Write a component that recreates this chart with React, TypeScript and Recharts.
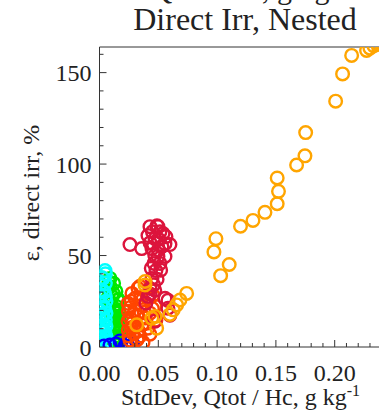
import React from "react";
import { ScatterChart, Scatter, XAxis, YAxis, Label } from "recharts";

const FONT = "'Liberation Serif', 'Times New Roman', Times, serif";

// x = StdDev Qtot/Hc (g/kg), y = epsilon direct irr (%)
const orangePts = [
  [0.2144, 159.4], [0.2067, 149.3], [0.2008, 134.4], [0.1753, 117.2], [0.1747, 104.5],
  [0.1676, 99.5], [0.1511, 92.4], [0.1522, 85.1], [0.1511, 78.3], [0.1407, 73.6],
  [0.1305, 69.2], [0.1199, 66.0], [0.099, 59.2], [0.0973, 52.0], [0.1103, 45.1],
  [0.103, 39.0], [0.2271, 162.1], [0.2299, 163.4], [0.2333, 164.6], [0.2367, 165.5],
  [0.24, 166.0], [0.0741, 29.3], [0.0684, 25.7], [0.0656, 23.0], [0.0627, 20.3],
  [0.0599, 17.8], [0.0486, 10.3], [0.0387, 33.9], [0.0472, 16.7], [0.0316, 12.1],
  [0.0444, 15.8], [0.0387, 35.8],
];
const crimsonPts = [
  [0.0259, 56.0], [0.0359, 53.8], [0.0412, 60.9], [0.0429, 65.8], [0.0489, 66.3],
  [0.0514, 63.0], [0.0497, 65.8], [0.0565, 60.3], [0.0599, 56.0], [0.0557, 56.5],
  [0.0531, 55.0], [0.0472, 59.2], [0.0446, 53.8], [0.0497, 49.5], [0.0463, 45.7],
  [0.048, 41.8], [0.0446, 37.5], [0.0429, 32.0], [0.0412, 27.7], [0.0395, 24.0],
  [0.0557, 49.5], [0.0514, 45.7], [0.0582, 25.5], [0.0599, 17.4], [0.0472, 14.1],
  [0.0557, 26.6], [0.0582, 21.2], [0.05, 59.0], [0.054, 62.0], [0.045, 63.0],
  [0.043, 57.0], [0.05, 53.0], [0.047, 50.0], [0.052, 42.0], [0.044, 43.0],
  [0.046, 34.0], [0.049, 37.0], [0.043, 29.0], [0.047, 31.0],
];
const orangeRedPts = [
  [0.0327, 32.1], [0.0276, 29.3], [0.0412, 26.6], [0.0242, 23.9], [0.0361, 22.8],
  [0.0472, 22.3], [0.0245, 19.6], [0.0319, 17.4], [0.0429, 18.5], [0.0242, 14.1],
  [0.0361, 12.0], [0.0245, 9.2], [0.0285, 7.6], [0.0412, 10.3], [0.025, 6.0],
  [0.0259, 3.8], [0.0344, 33.2], [0.0455, 28.3], [0.026, 16.0], [0.027, 10.5],
  [0.0387, 15.8], [0.0302, 26.6], [0.026, 21.5], [0.048, 14.7], [0.0344, 6.0],
  [0.0429, 7.0], [0.03, 20.0], [0.035, 27.0], [0.038, 19.0], [0.028, 13.0],
  [0.033, 9.0], [0.045, 21.0], [0.04, 13.0], [0.027, 25.0], [0.032, 4.0],
  [0.037, 2.5], [0.029, 11.0],
];
const greenPts = [
  [0.0089, 37.5], [0.012, 34.8], [0.0072, 32.1], [0.014, 30.4], [0.0106, 27.7],
  [0.0155, 25.5], [0.0072, 23.9], [0.014, 22.3], [0.0165, 20.1], [0.0089, 18.5],
  [0.0157, 16.8], [0.017, 14.7], [0.0106, 13.0], [0.0165, 11.4], [0.017, 9.2],
  [0.0132, 7.6], [0.016, 6.0], [0.007, 26.6], [0.007, 15.8], [0.0115, 3.8],
  [0.012, 29.0], [0.016, 26.0], [0.013, 19.0], [0.017, 12.0], [0.014, 4.0],
  [0.012, 17.0], [0.009, 33.0], [0.012, 21.0], [0.013, 15.0], [0.015, 8.0],
  [0.011, 10.0], [0.008, 35.5], [0.01, 24.0],
];
const cyanPts = [
  [0.0047, 41.8], [0.003, 37.5], [0.005, 34.8], [0.0021, 31.0], [0.005, 27.7],
  [0.0013, 23.9], [0.0045, 21.2], [0.0055, 25.0], [0.0021, 16.8], [0.005, 14.7],
  [0.0055, 18.5], [0.0013, 11.4], [0.0045, 8.7], [0.0055, 11.4], [0.0021, 4.9],
  [0.005, 3.3], [0.0055, 6.0], [0.0, 1.6], [0.0, 5.0], [0.0, 10.0],
  [0.0, 15.0], [0.0, 20.0], [0.0, 28.0], [0.0, 34.0], [0.003, 12.0],
  [0.004, 8.0], [0.0035, 22.0], [0.003, 18.0], [0.004, 30.0], [0.0035, 6.0],
  [0.005, 1.5], [0.002, 38.0], [0.005, 40.0],
];
const bluePts = [
  [0.0174, 3.3], [0.0234, 2.2], [0.0285, 1.6], [0.014, 1.6], [0.0038, 0.5],
  [0.0089, 1.1], [0.0217, 0.5],
];

const xLabelTicks = [0, 0.05, 0.1, 0.15, 0.2];
const xAllTicks = [
  0, 0.01, 0.02, 0.03, 0.04, 0.05, 0.06, 0.07, 0.08, 0.09, 0.1, 0.11, 0.12, 0.13,
  0.14, 0.15, 0.16, 0.17, 0.18, 0.19, 0.2, 0.21, 0.22, 0.23, 0.24, 0.25,
];
const yLabelTicks = [0, 50, 100, 150];
const yAllTicks = [0, 10, 20, 30, 40, 50, 60, 70, 80, 90, 100, 110, 120, 130, 140, 150, 160];

const X_DOMAIN = [0, 0.25];
const Y_DOMAIN = [0, 164];

const series = [
  { name: "green", color: "#00e800", pts: greenPts },
  { name: "cyan", color: "#00ffff", pts: cyanPts },
  { name: "blue", color: "#0000ff", pts: bluePts },
  { name: "orangered", color: "#ff4500", pts: orangeRedPts },
  { name: "crimson", color: "#dc143c", pts: crimsonPts },
  { name: "orange", color: "#ffa500", pts: orangePts },
];

const AXIS = "#333";
const TXT = "#222";

const ring = (color: string) => (props: any) => (
  <circle cx={props.cx} cy={props.cy} r={6.3} fill="none" stroke={color} strokeWidth={2.4} />
);

const inList = (v: number, list: number[]) => list.some((t) => Math.abs(t - v) < 1e-9);
const isX5 = (v: number) => Math.abs(v / 0.05 - Math.round(v / 0.05)) < 1e-6;

// bottom axis: inward tick + label for majors (tickSize 0, tickMargin 17)
const BottomTick = (props: any) => {
  const { x, y, payload } = props;
  const v = payload.value;
  const axisY = y - 17;
  return (
    <g>
      <line x1={x} x2={x} y1={axisY} y2={axisY - (isX5(v) ? 7 : 4)} stroke={AXIS} strokeWidth={1} />
      {inList(v, xLabelTicks) && (
        <text x={x} y={y} dy="0.71em" textAnchor="middle" fontFamily={FONT} fontSize={24} fill={TXT}>
          {v.toFixed(2)}
        </text>
      )}
    </g>
  );
};

const TopTick = (props: any) => {
  const { x, y, payload } = props;
  const v = payload.value;
  return <line x1={x} x2={x} y1={y} y2={y + (isX5(v) ? 7 : 4)} stroke={AXIS} strokeWidth={1} />;
};

// left axis: tickSize 0, tickMargin 8
const LeftTick = (props: any) => {
  const { x, y, payload } = props;
  const v = payload.value;
  const axisX = x + 8;
  return (
    <g>
      <line x1={axisX} x2={axisX + (v % 50 === 0 ? 7 : 4)} y1={y} y2={y} stroke={AXIS} strokeWidth={1} />
      {inList(v, yLabelTicks) && (
        <text x={x} y={y} dy="0.355em" textAnchor="end" fontFamily={FONT} fontSize={24} fill={TXT}>
          {v}
        </text>
      )}
    </g>
  );
};

const xTitle = (props: any) => {
  const vb = props.viewBox;
  return (
    <text x={vb.x + 141} y={vb.y + 58} textAnchor="middle" fontFamily={FONT} fontSize={24} fill={TXT}>
      StdDev, Qtot / Hc, g kg
      <tspan dy={-9} fontSize={16}>-1</tspan>
    </text>
  );
};

const yTitle = (props: any) => {
  const vb = props.viewBox;
  const cx = vb.x - 1;
  const cy = 193;
  return (
    <text x={cx} y={cy} transform={`rotate(-90 ${cx} ${cy})`} textAnchor="middle" fontFamily={FONT} fontSize={24} fill={TXT}>
      ε, direct irr, %
    </text>
  );
};

export default function App() {
  return (
    <div style={{ position: "absolute", left: 0, top: 0, width: 379, height: 416, overflow: "hidden", background: "#fff" }}>
      <ScatterChart width={400} height={416} margin={{ top: 47, right: 6.5, bottom: 0, left: 39.5 }}>
        <XAxis
          xAxisId="x"
          type="number"
          dataKey="x"
          domain={X_DOMAIN}
          allowDataOverflow
          ticks={xAllTicks}
          tickLine={false}
          tickSize={0}
          tickMargin={17}
          height={69}
          stroke={AXIS}
          tick={<BottomTick />}
          interval={0}
        >
          <Label content={xTitle} />
        </XAxis>
        <XAxis
          xAxisId="xt"
          orientation="top"
          type="number"
          domain={X_DOMAIN}
          allowDataOverflow
          mirror
          ticks={xAllTicks}
          tickLine={false}
          tickSize={0}
          tickMargin={0}
          stroke={AXIS}
          tick={<TopTick />}
          interval={0}
        />
        <YAxis
          yAxisId="y"
          type="number"
          dataKey="y"
          domain={Y_DOMAIN}
          allowDataOverflow
          ticks={yAllTicks}
          tickLine={false}
          tickSize={0}
          tickMargin={8}
          width={60}
          stroke={AXIS}
          tick={<LeftTick />}
          interval={0}
        >
          <Label content={yTitle} />
        </YAxis>
        {series.map((s) => (
          <Scatter
            key={s.name}
            name={s.name}
            xAxisId="x"
            yAxisId="y"
            data={s.pts.map(([x, y]) => ({ x, y }))}
            shape={ring(s.color)}
            isAnimationActive={false}
          />
        ))}
      </ScatterChart>
      <svg width={379} height={416} style={{ position: "absolute", left: 0, top: 0, pointerEvents: "none" }}>
        <text x={240} y={-1} textAnchor="middle" fontFamily={FONT} fontSize={30} fill={TXT}>
          Qtot / Hc, g kg
        </text>
        <text x={245} y={30} textAnchor="middle" fontFamily={FONT} fontSize={32} fill={TXT}>
          Direct Irr, Nested
        </text>
      </svg>
    </div>
  );
}
